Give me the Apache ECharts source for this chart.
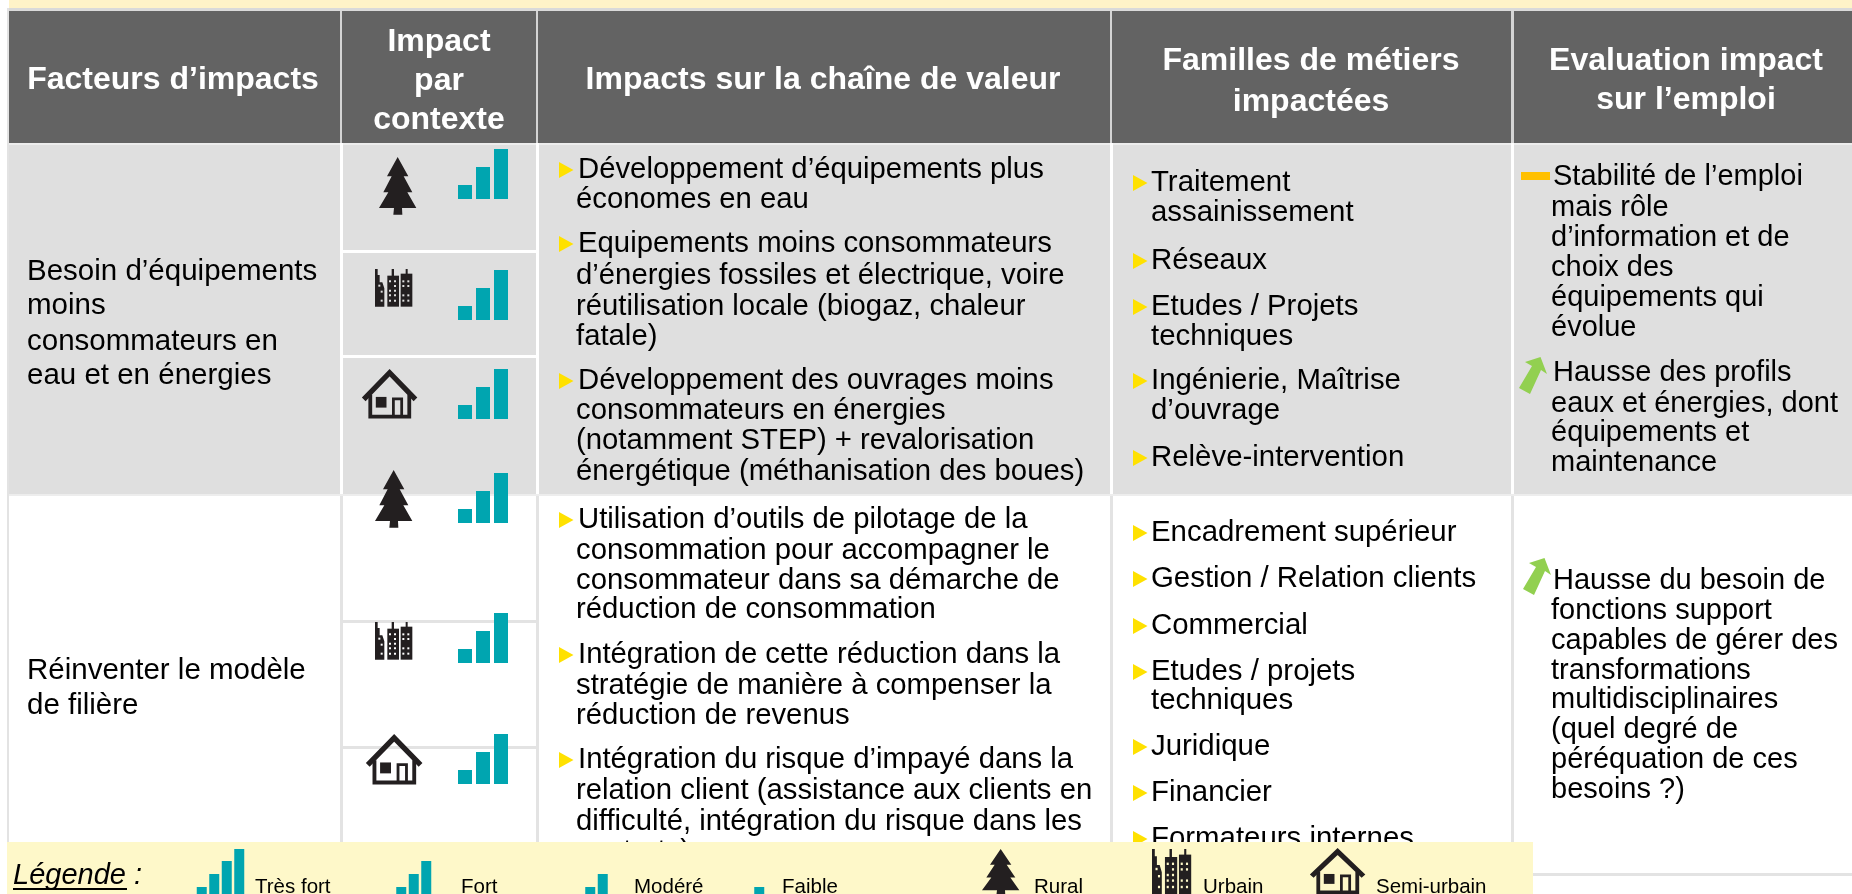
<!DOCTYPE html>
<html><head><meta charset="utf-8">
<style>html,body{margin:0;padding:0;background:#fff}#c{width:1852px;height:894px}</style>
<script src="https://cdn.jsdelivr.net/npm/echarts@6/dist/echarts.min.js"></script>
</head><body><div id="c"></div>
<script>
// ---------- data ----------
const headerFacteurs = ['Facteurs d’impacts'];
const headerContexte = ['Impact', 'par', 'contexte'];
const headerChaine = ['Impacts sur la chaîne de valeur'];
const headerFamilles = ['Familles de métiers', 'impactées'];
const headerEmploi = ['Evaluation impact', 'sur l’emploi'];
const facteur1 = ['Besoin d’équipements', 'moins', 'consommateurs en', 'eau et en énergies'];
const facteur2 = ['Réinventer le modèle', 'de filière'];
const chaineLines = [
 '►Développement d’équipements plus','économes en eau',
 '►Equipements moins consommateurs','d’énergies fossiles et électrique, voire','réutilisation locale (biogaz, chaleur','fatale)',
 '►Développement des ouvrages moins','consommateurs en énergies','(notamment STEP) + revalorisation','énergétique (méthanisation des boues)',
 '►Utilisation d’outils de pilotage de la','consommation pour accompagner le','consommateur dans sa démarche de','réduction de consommation',
 '►Intégration de cette réduction dans la','stratégie de manière à compenser la','réduction de revenus',
 '►Intégration du risque d’impayé dans la','relation client (assistance aux clients en','difficulté, intégration du risque dans les','contrats)'];
const famillesLines = [
 '►Traitement','assainissement','►Réseaux','►Etudes / Projets','techniques','►Ingénierie, Maîtrise','d’ouvrage','►Relève-intervention',
 '►Encadrement supérieur','►Gestion / Relation clients','►Commercial','►Etudes / projets','techniques','►Juridique','►Financier','►Formateurs internes'];
const emploi1 = ['Stabilité de l’emploi','mais rôle','d’information et de','choix des','équipements qui','évolue'];
const emploi2 = ['Hausse des profils','eaux et énergies, dont','équipements et','maintenance'];
const emploi3 = ['Hausse du besoin de','fonctions support','capables de gérer des','transformations','multidisciplinaires','(quel degré de','péréquation de ces','besoins ?)'];
const legendTitle = 'Légende :';
const legendLabels = ['Très fort','Fort','Modéré','Faible','Rural','Urbain','Semi-urbain'];
const barCategories = ['1','2','3'];
const impactFort = [14, 32, 50];          // six cells of the table, all "Fort"
const legendTresFort = [7, 20, 33, 45];
const legendFort = [7, 20, 33];
const legendModere = [7, 20];
const legendFaible = [7];

// ---------- layout ----------
const FONT = '"Liberation Sans", Arial, sans-serif';
const chaineY = [168,198, 242,274,305,335, 379,409,439,470, 518,549,579,608, 653,684,714, 758,789,820,850];
const famillesY = [181,211,259,305,335,379,409,456, 531,577,624,670,699,745,791,837];
const emploi1Y = [175,206,236,266,296,326];
const emploi2Y = [371,402,431,461];
const emploi3Y = [579,609,639,669,698,728,758,788];
const cellBars = [{x:456,base:199},{x:456,base:320},{x:456,base:419},{x:456,base:523},{x:456,base:663},{x:456,base:784}];
const legendBars = [
 {x:195.5,vals:legendTresFort},{x:395,vals:legendFort},{x:584,vals:legendModere},{x:753,vals:legendFaible}];
const legendTextX = [255,461,634,782,1034,1203,1376];

const g = [];
const rect = (x,y,w,h,fill) => g.push({type:'rect',shape:{x,y,width:w,height:h},style:{fill},silent:true});
const text = (t,x,y,o={}) => g.push({type:'text',x,y:y+1.5,silent:true,style:Object.assign({
  text:t,font:'29px '+FONT,fill:'#000',textAlign:'left',textVerticalAlign:'middle'},o)});
const head = (lines,cx,ys) => lines.forEach((l,i)=>text(l,cx,ys[i]+1,{font:'bold 32px '+FONT,fill:'#fff',textAlign:'center'}));
const tri = (x,cy) => g.push({type:'polygon',shape:{points:[[x,cy-8],[x+14.5,cy],[x,cy+8]]},style:{fill:'#FFE100'},silent:true});
const bullets = (lines,ys,bx,tx,wrapx,font) => lines.forEach((l,i)=>{
  if(l[0]==='►'){tri(bx,ys[i]+2);text(l.slice(1),tx,ys[i],{font});} else text(l,wrapx,ys[i],{font});
});

// icons are drawn in a local space then placed with a group
function tree(x,y,sx,sy,color){
  g.push({type:'polygon',x,y,scaleX:sx,scaleY:sy,silent:true,style:{fill:color||'#231F20'},shape:{points:[
   [56,0],[88,58],[74,58],[100,106],[85,106],[112,153],[69,153],[70,173],[43,173],[45,153],[0,153],[28,106],[13,106],[38,58],[24,58]]}});
}
function city(x,y,sx,sy,bg){
  const c=[];
  const r=(a,b,w,h,f)=>c.push({type:'rect',shape:{x:a,y:b,width:w,height:h},style:{fill:f}});
  c.push({type:'polygon',shape:{points:[[0,0],[8,0],[8,18],[14,18],[14,40],[22,40],[28,58],[28,113],[0,113]]},style:{fill:'#231F20'}});
  r(37,20,35,93,'#231F20'); r(50,0,7,22,'#231F20');
  r(77,14,35,99,'#231F20'); r(92,0,6,16,'#231F20');
  const win=[[10,47],[17,65],[17,92],
   [42,34],[57,34],[57,48],[42,62],[57,62],[42,76],[57,76],[42,92],[57,92],
   [82,34],[97,34],[82,48],[97,48],[82,76],[97,76],[82,92],[97,92]];
  win.forEach(w=>r(w[0],w[1],6,6,bg));
  g.push({type:'group',x,y,scaleX:sx,scaleY:sy,silent:true,children:c});
}
function house(x,y,sx,sy){
  const c=[];
  const ink={stroke:'#231F20',fill:null};
  c.push({type:'polyline',shape:{points:[[5,85],[80,8],[155,85]]},style:Object.assign({},ink,{lineWidth:15})});
  c.push({type:'polyline',shape:{points:[[24,72],[24,135],[137,135],[137,72]]},style:Object.assign({},ink,{lineWidth:11})});
  c.push({type:'rect',shape:{x:40,y:78,width:31,height:31},style:{fill:'#231F20'}});
  c.push({type:'rect',shape:{x:91,y:84,width:24,height:51},style:Object.assign({},ink,{lineWidth:8})});
  g.push({type:'group',x,y,scaleX:sx,scaleY:sy,silent:true,children:c});
}
function arrow(dx,dy){
  const pts=[[1540.5,357],[1547,374],[1541,370],[1530,394],[1519,388],[1532,366],[1525,362]];
  g.push({type:'polygon',shape:{points:pts.map(p=>[p[0]+dx,p[1]+dy])},style:{fill:'#92D050'},silent:true});
}

// ---------- table background ----------
const HDR='#636363', ROW='#DFDFDF', SEP='#E3E3E3';
rect(9,0,1843,8,'#FFF3C8');
rect(7,8,1845,3,'#DADADA');
rect(7,8,2,866,SEP);
rect(9,143,1843,2,'#EDEDED');
[[9,340],[342,536],[538,1110],[1112,1511],[1514,1852]].forEach(c=>rect(c[0],11,c[1]-c[0],132,HDR));
rect(340,11,2,132,'#D4D4D4');rect(536,11,2,132,'#D4D4D4');rect(1110,11,2,132,'#D4D4D4');rect(1511,11,3,132,'#D4D4D4');
rect(9,145,1843,349,ROW);
[340,536,1110,1511].forEach(x=>rect(x,143,3,351,'#fff'));
rect(342,250,195,3,'#fff');
rect(342,355,195,3,'#fff');
rect(9,494,1843,2,'#EDEDED');
[340,536,1110,1511].forEach(x=>rect(x,496,3,380,SEP));
rect(340,620,198,3,SEP);
rect(340,746,198,3,SEP);
rect(1533,873,319,3,SEP);

// ---------- texts ----------
head(headerFacteurs,173,[78]);
head(headerContexte,439,[40,79,118]);
head(headerChaine,823,[78]);
head(headerFamilles,1311,[59,100]);
head(headerEmploi,1686,[59,98]);
const F1='29.5px '+FONT, F3='29.3px '+FONT, F4='29.4px '+FONT;
facteur1.forEach((l,i)=>text(l,27,[270,304,340,374][i],{font:F1}));
facteur2.forEach((l,i)=>text(l,27,[669,704][i],{font:F1}));
bullets(chaineLines,chaineY,559,578,576,F3);
bullets(famillesLines,famillesY,1133,1151,1151,F4);
emploi1.forEach((l,i)=>text(l,i?1551:1553,emploi1Y[i]));
emploi2.forEach((l,i)=>text(l,i?1551:1553,emploi2Y[i]));
emploi3.forEach((l,i)=>text(l,i?1551:1553,emploi3Y[i]));
rect(1521,172,29,8,'#FFC000');
arrow(0,0); arrow(4,201);

// ---------- cell icons ----------
const K=1/3;
tree(379,157,K,K); tree(375,470,K,K);
city(375,269,K,K,ROW); city(375,622,K,K,'#fff');
house(362,370,0.345,0.345); house(366,735,0.352,0.352);

// ---------- legend band (covers what runs under it) ----------
const LEG='#FEF8C9';
rect(7,842,1526,52,LEG);
text(legendTitle,13,874.5,{font:'italic 29px '+FONT});
rect(13,888,114,2,'#000');
legendLabels.forEach((l,i)=>text(l,legendTextX[i],885.5,{font:'20.5px '+FONT}));
tree(982,849,K,0.27);
city(1152,849,0.35,0.4,LEG);
house(1310,849,0.345,0.32);

// ---------- bars through the library ----------
const grids=[],xs=[],ys=[],series=[];
function miniBars(left,top,bandW,barW,cats,vals,maxV,h){
  const i=grids.length;
  grids.push({left,top,width:bandW*cats.length,height:h,containLabel:false});
  xs.push({type:'category',gridIndex:i,data:cats,show:false,boundaryGap:true});
  ys.push({type:'value',gridIndex:i,min:0,max:maxV,show:false,splitLine:{show:false}});
  series.push({type:'bar',xAxisIndex:i,yAxisIndex:i,data:vals,barWidth:barW,silent:true,animation:false,
    itemStyle:{color:'#00A5B0'},z:5});
}
cellBars.forEach(b=>miniBars(b.x,b.base-50,18,14,barCategories,impactFort,50,50));
legendBars.forEach(b=>miniBars(b.x,849,12.5,10,b.vals.map((_,i)=>String(i+1)),b.vals,45,45));

const chart=echarts.init(document.getElementById('c'),null,{renderer:'canvas',width:1852,height:894});
chart.setOption({animation:false,backgroundColor:'#fff',grid:grids,xAxis:xs,yAxis:ys,series,graphic:{elements:g}});
</script></body></html>
